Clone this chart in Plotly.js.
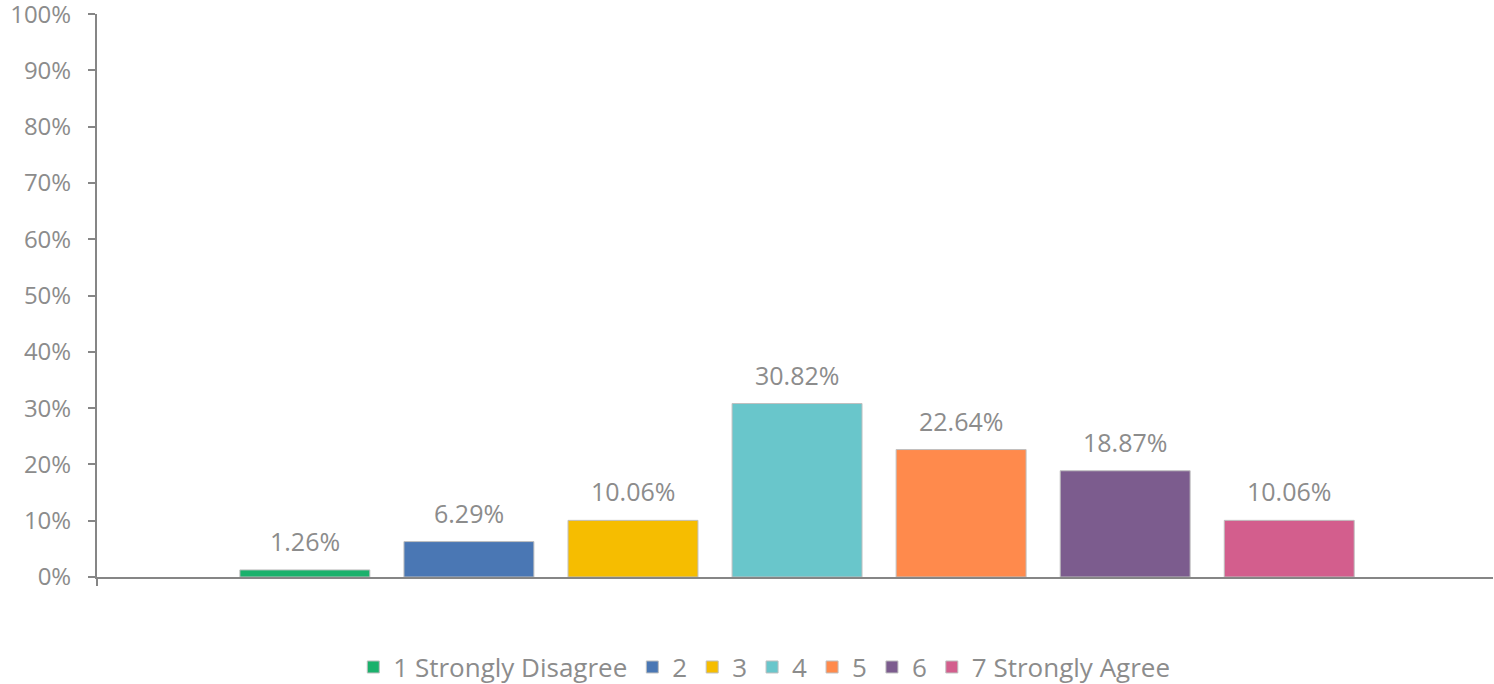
<!DOCTYPE html>
<html><head><meta charset="utf-8">
<script src="https://cdn.plot.ly/plotly-3.0.1.min.js"></script>
<style>html,body{margin:0;padding:0;background:#fff}#chart{width:1494px;height:684px}</style>
</head><body><div id="chart"></div>
<script>
const categories = ['1 Strongly Disagree','2','3','4','5','6','7 Strongly Agree'];
const values = [1.26, 6.29, 10.06, 30.82, 22.64, 18.87, 10.06];
const colors = ['#1BB16C','#4A77B4','#F6BD00','#69C6CB','#FF8A4C','#7C5C8E','#D35E8D'];
const yTicks = [0,10,20,30,40,50,60,70,80,90,100];

const font = 'Open Sans, sans-serif';
const gray = '#8C8C8C';

const traces = categories.map((c,i)=>({
  type:'bar', x:[c], y:[values[i]], name:c,
  marker:{color:colors[i], line:{color:'#BFBFBF', width:1}},
  hoverinfo:'skip'
}));

const annotations = categories.map((c,i)=>({
  x:i, y:values[i], xref:'x', yref:'y',
  text: values[i].toFixed(2)+'%', showarrow:false,
  yanchor:'bottom', yshift:10,
  font:{family:font, size:25, color:gray}
}));

const layout = {
  width:1494, height:684,
  margin:{l:97, r:1, t:14, b:107, autoexpand:false},
  paper_bgcolor:'#fff', plot_bgcolor:'#fff',
  barmode:'overlay', bargap:0.208,
  showlegend:true,
  legend:{orientation:'h', x:0.478, xanchor:'center', y:-0.16, yanchor:'middle',
    font:{family:font, size:26, color:gray}, itemclick:false, traceorder:'normal'},
  xaxis:{type:'category', range:[-1.267, 7.242], showticklabels:false, ticks:'',
    showline:true, linecolor:'#868686', linewidth:2, showgrid:false, zeroline:false, fixedrange:true},
  yaxis:{range:[0,100.02], tickvals:yTicks, ticktext:yTicks.map(v=>v+'%'),
    ticks:'outside', ticklen:7, tickwidth:2, tickcolor:'#868686',
    showline:true, linecolor:'#868686', linewidth:2, showgrid:false, zeroline:false,
    ticklabelstandoff:12, ticklabeloverflow:'allow',
    tickfont:{family:font, size:24, color:gray}, fixedrange:true},
  annotations: annotations,
  shapes:[{type:'line', xref:'paper', yref:'paper', x0:0, x1:0, y0:0, y1:-0.016,
    line:{color:'#868686', width:2}}]
};

Plotly.newPlot('chart', traces, layout, {displayModeBar:false, staticPlot:true});
</script></body></html>
